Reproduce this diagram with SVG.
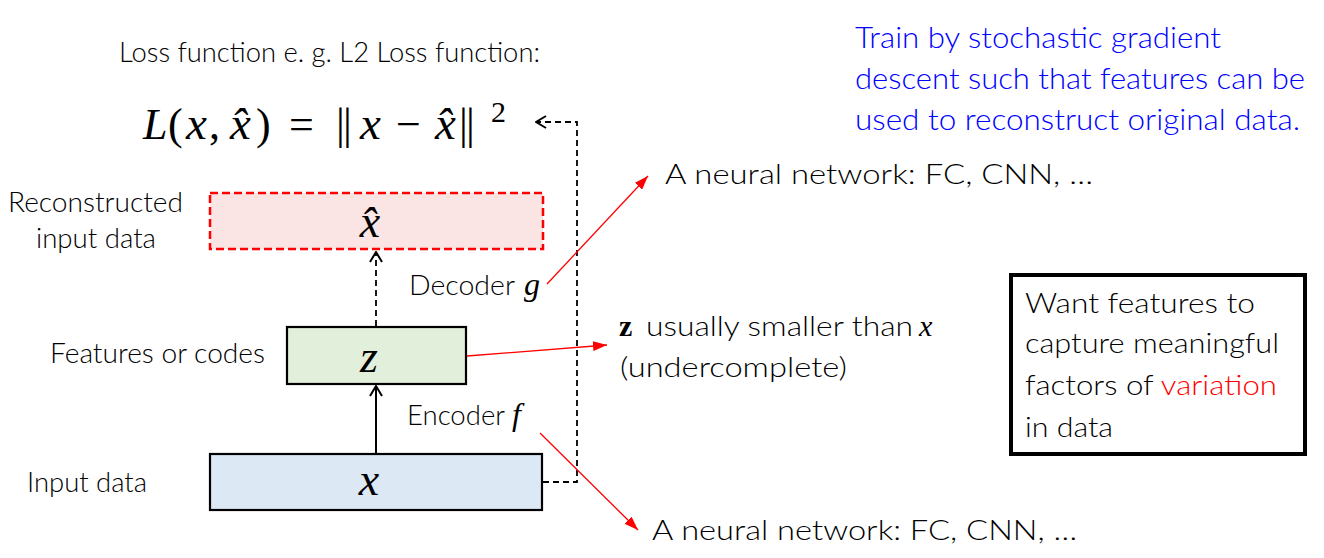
<svg xmlns="http://www.w3.org/2000/svg" width="1324" height="558" viewBox="0 0 1324 558">
<style>
.t{font-family:Lato,"Open Sans","Liberation Sans",sans-serif;font-weight:300;fill:#000;}
.b{fill:#0000ff;}
.m{font-family:"Liberation Serif","DejaVu Serif",serif;fill:#000;}
.i{font-style:italic;}
.red{stroke:#ff0000;stroke-width:1.3;fill:none;}
.dash{stroke:#000;stroke-width:1.8;stroke-dasharray:6,4;fill:none;}
.box{stroke:#000;stroke-width:2.2;}
</style>
<defs>
<marker id="redhead" viewBox="0 0 14 10" refX="14" refY="5" markerWidth="14" markerHeight="10" markerUnits="userSpaceOnUse" orient="auto"><path d="M0,0 L14,5 L0,10 z" fill="#ff0000"/></marker>
<marker id="openhead" viewBox="0 0 12 14" refX="11" refY="7" markerWidth="12" markerHeight="14" markerUnits="userSpaceOnUse" orient="auto"><path d="M1,1 L11,7 L1,13" fill="none" stroke="#000" stroke-width="2"/></marker>
</defs>
<rect width="1324" height="558" fill="#fff"/>

<g id="loss">
<text class="t" x="119" y="62" font-size="27" textLength="421" lengthAdjust="spacingAndGlyphs">Loss function e. g. L2 Loss function:</text>
<text class="m" y="139" font-size="44"><tspan class="i" x="143">L</tspan><tspan x="168">(</tspan><tspan class="i" x="186" font-size="47">x</tspan><tspan x="209">,</tspan><tspan class="i" x="230" font-size="47">x̂</tspan><tspan x="256">)</tspan><tspan x="289">=</tspan><tspan x="336">|</tspan><tspan x="343">|</tspan><tspan class="i" x="360" font-size="47">x</tspan><tspan x="396">−</tspan><tspan class="i" x="435" font-size="47">x̂</tspan><tspan x="459">|</tspan><tspan x="466">|</tspan></text>
<text class="m" x="491" y="122" font-size="30">2</text>
</g>

<g id="note-sgd">
<text class="t b" x="855" y="48" font-size="30" textLength="366" lengthAdjust="spacingAndGlyphs">Train by stochastic gradient</text>
<text class="t b" x="855" y="89" font-size="30" textLength="450" lengthAdjust="spacingAndGlyphs">descent such that features can be</text>
<text class="t b" x="855" y="130" font-size="30" textLength="445" lengthAdjust="spacingAndGlyphs">used to reconstruct original data.</text>
</g>

<g id="recon">
<rect x="210" y="193" width="333" height="56" fill="#fbe4e4" stroke="#ff0000" stroke-width="2.5" stroke-dasharray="8,4"/>
<text class="m i" x="370" y="237" font-size="46" text-anchor="middle">x̂</text>
<text class="t" x="8" y="212" font-size="27" textLength="175" lengthAdjust="spacingAndGlyphs">Reconstructed</text>
<text class="t" x="36" y="248" font-size="27" textLength="120" lengthAdjust="spacingAndGlyphs">input data</text>
</g>

<g id="codes">
<rect class="box" x="287" y="327" width="179" height="57" fill="#e2efda"/>
<text class="m i" x="369" y="372" font-size="46" text-anchor="middle">z</text>
<text class="t" x="50" y="363" font-size="27" textLength="215" lengthAdjust="spacingAndGlyphs">Features or codes</text>
</g>

<g id="input">
<rect class="box" x="210" y="454" width="332" height="56" fill="#dde8f5"/>
<text class="m i" x="369" y="495" font-size="46" text-anchor="middle">x</text>
<text class="t" x="27" y="492" font-size="27" textLength="120" lengthAdjust="spacingAndGlyphs">Input data</text>
</g>

<g id="decoder-label">
<text class="t" x="409" y="295" font-size="27" textLength="106" lengthAdjust="spacingAndGlyphs">Decoder</text>
<text class="m i" x="524" y="295" font-size="32">g</text>
</g>

<g id="encoder-label">
<text class="t" x="407" y="425" font-size="27" textLength="98" lengthAdjust="spacingAndGlyphs">Encoder</text>
<text class="m i" x="512" y="425" font-size="32">f</text>
</g>

<g id="nn-top">
<text class="t" x="665" y="184" font-size="28" textLength="428" lengthAdjust="spacingAndGlyphs">A neural network: FC, CNN, …</text>
</g>

<g id="nn-bottom">
<text class="t" x="652" y="540" font-size="28" textLength="425" lengthAdjust="spacingAndGlyphs">A neural network: FC, CNN, …</text>
</g>

<g id="z-note">
<text class="m" x="619" y="336" font-size="30" font-weight="bold">z</text>
<text class="t" x="646" y="336" font-size="28" textLength="267" lengthAdjust="spacingAndGlyphs">usually smaller than</text>
<text class="m i" x="919" y="336" font-size="30">x</text>
<text class="t" x="620" y="377" font-size="28" textLength="227" lengthAdjust="spacingAndGlyphs">(undercomplete)</text>
</g>

<g id="want-box">
<rect x="1011" y="275" width="294" height="179" fill="#fff" stroke="#000" stroke-width="4"/>
<text class="t" x="1025" y="313" font-size="28" textLength="230" lengthAdjust="spacingAndGlyphs">Want features to</text>
<text class="t" x="1025" y="353" font-size="28" textLength="254" lengthAdjust="spacingAndGlyphs">capture meaningful</text>
<text class="t" x="1025" y="395" font-size="28" textLength="252" lengthAdjust="spacingAndGlyphs">factors of <tspan style="fill:#ff0000">variation</tspan></text>
<text class="t" x="1025" y="437" font-size="28" textLength="88" lengthAdjust="spacingAndGlyphs">in data</text>
</g>

<g id="connectors">
<line class="dash" x1="376" y1="326" x2="376" y2="252" marker-end="url(#openhead)"/>
<line x1="376" y1="453" x2="376" y2="386" stroke="#000" stroke-width="2" marker-end="url(#openhead)"/>
<path class="dash" d="M543,482 H577 V122 H536" marker-end="url(#openhead)"/>
<line class="red" x1="547" y1="284" x2="648" y2="176" marker-end="url(#redhead)"/>
<line class="red" x1="467" y1="356" x2="607" y2="345" marker-end="url(#redhead)"/>
<line class="red" x1="540" y1="433" x2="638" y2="530" marker-end="url(#redhead)"/>
</g>
</svg>
